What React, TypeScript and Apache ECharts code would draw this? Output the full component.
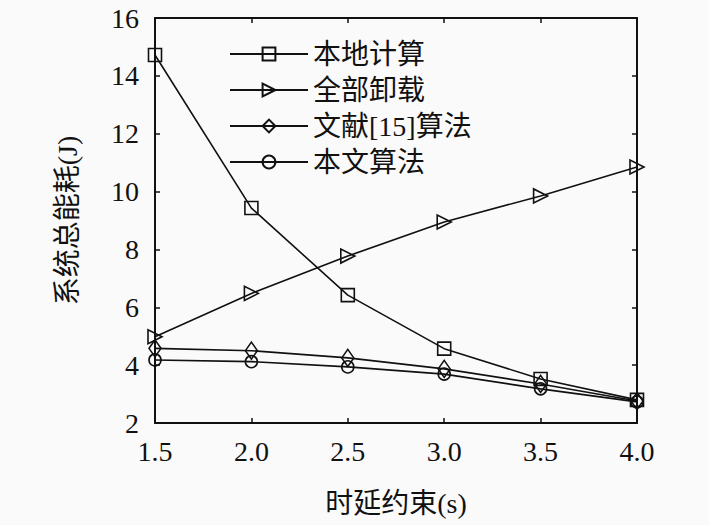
import React, { useEffect, useRef } from "react";
import * as echarts from "echarts";

const delays = [1.5, 2.0, 2.5, 3.0, 3.5, 4.0];
const localCompute = [14.72, 9.43, 6.42, 4.57, 3.52, 2.8];
const fullOffload = [4.98, 6.48, 7.77, 8.95, 9.85, 10.85];
const ref15 = [4.58, 4.5, 4.25, 3.87, 3.35, 2.76];
const ours = [4.18, 4.12, 3.94, 3.69, 3.18, 2.73];

const seriesNames = ["本地计算", "全部卸载", "文献[15]算法", "本文算法"];
const xTitle = "时延约束(s)";
const yTitle = "系统总能耗(J)";

const FONT = '"Liberation Serif", "DejaVu Serif", "Noto Sans CJK SC", serif';
const INK = "#111";

export default function App() {
  const ref = useRef<HTMLDivElement>(null);
  useEffect(() => {
    if (!ref.current) return;
    const chart = echarts.init(ref.current, null, { renderer: "svg" });
    const pair = (arr: number[]) => delays.map((d, i) => [d, arr[i]]);
    const base = {
      type: "line",
      xAxisIndex: 0,
      yAxisIndex: 0,
      lineStyle: { color: INK, width: 1.6 },
      itemStyle: { color: "rgba(0,0,0,0)", borderColor: INK, borderWidth: 1.6 },
      emphasis: { disabled: true },
    };
    const axisCommon = {
      axisLine: { show: true, onZero: false, lineStyle: { color: INK, width: 2 } },
      axisTick: { show: true, inside: true, length: 5, lineStyle: { color: INK, width: 1.5 } },
      splitLine: { show: false },
    };
    chart.setOption({
      animation: false,
      backgroundColor: "#fafafa",
      grid: { left: 155, right: 72, top: 18, bottom: 102 },
      legend: {
        orient: "vertical",
        left: 224,
        top: 35,
        itemWidth: 78,
        itemHeight: 16,
        itemGap: 8,
        data: seriesNames,
        textStyle: { fontFamily: FONT, fontSize: 28, color: INK },
      },
      xAxis: [
        {
          type: "value",
          min: 1.5,
          max: 4,
          interval: 0.5,
          position: "bottom",
          ...axisCommon,
          axisLabel: {
            fontFamily: FONT,
            fontSize: 28,
            color: INK,
            margin: 14,
            formatter: (v: number) => v.toFixed(1),
          },
          name: xTitle,
          nameLocation: "middle",
          nameGap: 66,
          nameTextStyle: { fontFamily: FONT, fontSize: 28, color: INK },
        },
        {
          type: "value",
          min: 1.5,
          max: 4,
          interval: 0.5,
          position: "top",
          ...axisCommon,
          axisLabel: { show: false },
        },
      ],
      yAxis: [
        {
          type: "value",
          min: 2,
          max: 16,
          interval: 2,
          position: "left",
          ...axisCommon,
          axisLabel: { fontFamily: FONT, fontSize: 28, color: INK, margin: 16 },
          name: yTitle,
          nameLocation: "middle",
          nameGap: 74,
          nameTextStyle: { fontFamily: FONT, fontSize: 28, color: INK },
        },
        {
          type: "value",
          min: 2,
          max: 16,
          interval: 2,
          position: "right",
          ...axisCommon,
          axisLabel: { show: false },
        },
      ],
      series: [
        { ...base, name: seriesNames[0], data: pair(localCompute), symbol: "rect", symbolSize: 13 },
        { ...base, name: seriesNames[1], data: pair(fullOffload), symbol: "triangle", symbolSize: 14, symbolRotate: -90 },
        { ...base, name: seriesNames[2], data: pair(ref15), symbol: "diamond", symbolSize: [12, 17] },
        { ...base, name: seriesNames[3], data: pair(ours), symbol: "circle", symbolSize: 12 },
      ],
    });
    return () => chart.dispose();
  }, []);
  return <div ref={ref} style={{ width: 709, height: 525, position: "absolute", left: 0, top: 0 }} />;
}
